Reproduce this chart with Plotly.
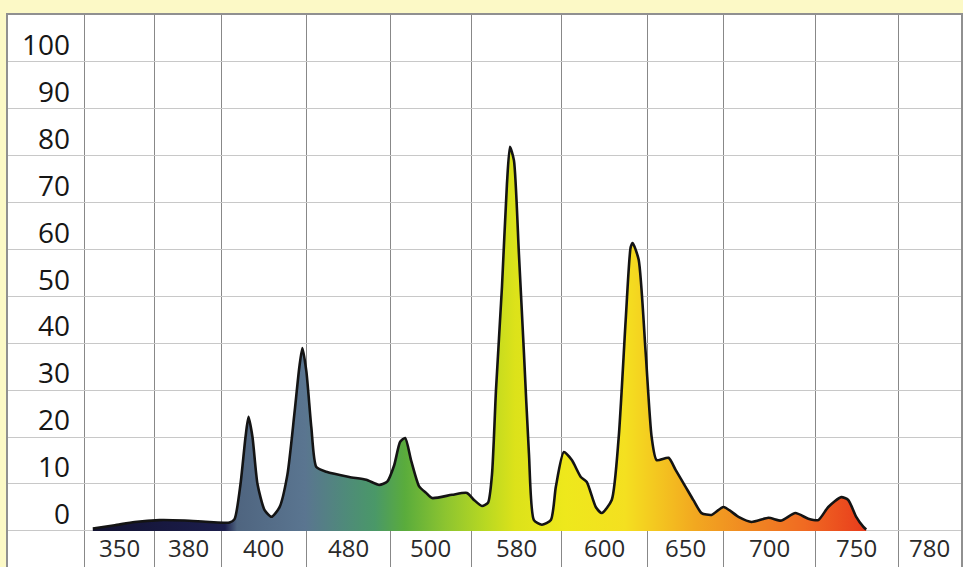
import plotly.graph_objects as go

# ---- data ----
# horizontal position along the chart (chart units, 0 = first grid column) and relative intensity
spectrum_pos = [8, 30, 50, 75, 100, 125, 145, 150, 156, 161, 164, 168, 173, 180, 187, 195, 203, 210, 215,
                218, 222, 227, 232, 242, 265, 282, 295, 303, 310, 316, 321, 327, 335, 342, 348, 368, 383,
                390, 398, 404, 408, 412, 418, 423, 426, 430, 435, 440, 445, 450, 458, 467, 472, 480, 488,
                497, 503, 512, 518, 528, 535, 542, 547, 549, 555, 562, 568, 573, 585, 592, 602, 610, 618,
                628, 640, 655, 668, 685, 698, 712, 725, 735, 745, 758, 765, 773, 780, 783]
spectrum_val = [0.5, 1.2, 1.9, 2.3, 2.2, 1.9, 1.8, 2.5, 10, 20, 24.3, 20, 10, 4.5, 3, 5, 12, 25, 35,
                39, 34, 22, 13.6, 12.6, 11.5, 10.9, 9.8, 10.5, 14, 19, 19.8, 15, 9.5, 8.1, 7, 7.7, 8.1,
                6.6, 5.3, 6, 12, 30, 52, 74, 81.9, 79, 59, 38, 16.6, 2.3, 1.3, 2.3, 9.4, 16.8, 15.1,
                11.5, 10.4, 5.1, 3.8, 6.6, 20, 45, 60.5, 61.4, 57.8, 38, 20, 15.1, 15.6, 13, 9.4, 6.5, 3.8,
                3.4, 5.1, 3, 1.9, 2.8, 2.2, 3.8, 2.6, 2.3, 5.1, 7.2, 6.6, 3, 0.9, 0.3]

y_tick_values = [0, 10, 20, 30, 40, 50, 60, 70, 80, 90, 100]
x_tick_labels = ["350", "380", "400", "480", "500", "580", "600", "650", "700", "750", "780"]

# ---- layout geometry (grid columns) ----
col_bounds = [0, 70, 137, 222, 306, 387, 478, 564, 640, 732, 815, 878]
x_min, x_max = -77, 878
y_min, y_max = -7.7, 110

grad_stops = [(0, "#121232"), (140, "#1c1e4c"), (152, "#4f6580"), (220, "#5a7590"), (260, "#4f8a7a"),
              (290, "#4a9868"), (320, "#5aac3c"), (360, "#8cc430"), (400, "#b8d822"), (430, "#dce21a"),
              (480, "#eee81c"), (540, "#f4e020"), (570, "#f4c820"), (610, "#f2a820"), (660, "#f08a22"),
              (720, "#f06a22"), (783, "#e83a1c")]
g0, g1 = spectrum_pos[0], spectrum_pos[-1]
colorscale = [[max(0, min(1, (p - g0) / (g1 - g0))), c] for p, c in grad_stops]

fig = go.Figure()
fig.add_trace(go.Scatter(
    x=spectrum_pos, y=spectrum_val, mode="lines", fill="tozeroy",
    line=dict(color="#141414", width=2.6, shape="spline", smoothing=0.6),
    fillgradient=dict(type="horizontal", colorscale=colorscale, start=g0, stop=g1),
    hoverinfo="skip", showlegend=False,
))

annotations = []
for v in y_tick_values:
    annotations.append(dict(x=-13, y=v + 3.8, xref="x", yref="y", text=str(v), showarrow=False,
                            xanchor="right", yanchor="middle",
                            font=dict(family="Open Sans", size=28, color="#161616", weight=500)))
for i, lab in enumerate(x_tick_labels):
    cx = (col_bounds[i] + col_bounds[i + 1]) / 2
    annotations.append(dict(x=cx, y=-7.4, xref="x", yref="y", text=lab, showarrow=False,
                            xanchor="center", yanchor="bottom",
                            font=dict(family="Open Sans", size=24, color="#2a2a2a")))

fig.update_layout(
    width=963, height=567,
    margin=dict(l=8, r=0, t=15, b=0),
    paper_bgcolor="#fcf9c6", plot_bgcolor="white",
    annotations=annotations,
    xaxis=dict(range=[x_min, x_max], tickmode="array", tickvals=col_bounds[:-1], showticklabels=False,
               showgrid=True, gridcolor="#888888", gridwidth=1.4, zeroline=False,
               showline=True, linecolor="#909090", linewidth=1.5, mirror=True, ticks=""),
    yaxis=dict(range=[y_min, y_max], tickmode="array", tickvals=y_tick_values, showticklabels=False,
               showgrid=True, gridcolor="#c8c8c8", gridwidth=1, zeroline=False,
               showline=True, linecolor="#909090", linewidth=1.5, mirror=True, ticks=""),
)

fig.write_html("out.html", config={"displayModeBar": False},
               post_script="document.body.style.margin='0';document.body.style.overflow='hidden';")
